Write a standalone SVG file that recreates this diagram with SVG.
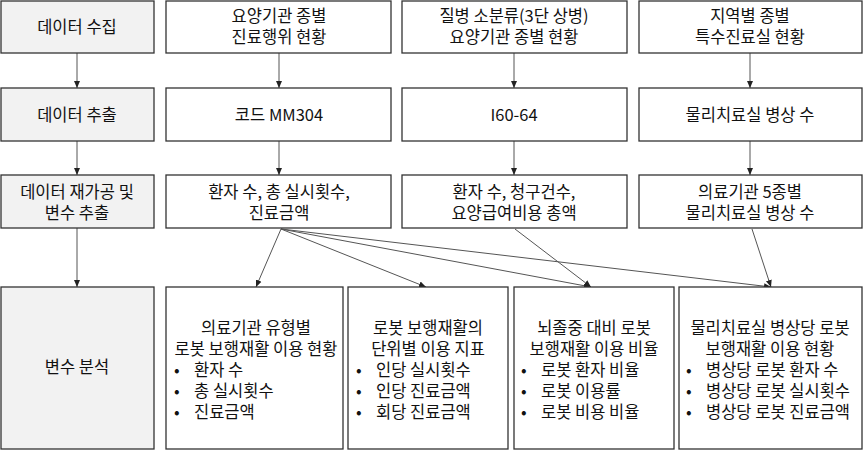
<svg xmlns="http://www.w3.org/2000/svg" width="866" height="452" viewBox="0 0 866 452">
<style>
rect{stroke:#333;stroke-width:1.3;fill:#fff}
rect.g{fill:#f2f2f2}
text{font-family:"Noto Sans CJK KR","Noto Sans",sans-serif;font-size:16.5px;fill:#111;text-anchor:middle}
text.l{text-anchor:start}
line{stroke:#555;stroke-width:1;marker-end:url(#a)}
</style>
<defs><marker id="a" markerWidth="8" markerHeight="8" refX="7" refY="4" orient="auto" markerUnits="userSpaceOnUse"><path d="M0,1 L7,4 L0,7 Z" fill="#222"/></marker></defs>
<g id="connectors">
<line x1="77" y1="53" x2="77" y2="88"/>
<line x1="77" y1="141" x2="77" y2="175"/>
<line x1="77" y1="228" x2="77" y2="287"/>
<line x1="279" y1="53" x2="279" y2="88"/>
<line x1="279" y1="141" x2="279" y2="175"/>
<line x1="514" y1="53" x2="514" y2="88"/>
<line x1="514" y1="141" x2="514" y2="175"/>
<line x1="750" y1="53" x2="750" y2="88"/>
<line x1="750" y1="141" x2="750" y2="175"/>
<line x1="281" y1="229" x2="256" y2="287"/>
<line x1="281" y1="229" x2="426" y2="287"/>
<line x1="281" y1="229" x2="591" y2="287"/>
<line x1="281" y1="229" x2="771" y2="287"/>
<line x1="515" y1="229" x2="591" y2="287"/>
<line x1="752" y1="229" x2="771" y2="287"/>
</g>
<g id="l1"><rect class="g" x="1" y="1" width="153" height="52"/><text x="77" y="33">데이터 수집</text></g>
<g id="l2"><rect class="g" x="1" y="88" width="153" height="53"/><text x="77" y="121">데이터 추출</text></g>
<g id="l3"><rect class="g" x="1" y="175" width="153" height="53"/><text x="77" y="198">데이터 재가공 및</text><text x="77" y="219">변수 추출</text></g>
<g id="l4"><rect class="g" x="1" y="287" width="153" height="162"/><text x="77" y="373">변수 분석</text></g>
<g id="c21"><rect x="166" y="1" width="225" height="52"/><text x="279" y="22">요양기관 종별</text><text x="279" y="43">진료행위 현황</text></g>
<g id="c31"><rect x="402" y="1" width="225" height="52"/><text x="514" y="22">질병 소분류(3단 상병)</text><text x="514" y="43">요양기관 종별 현황</text></g>
<g id="c41"><rect x="639" y="1" width="223" height="52"/><text x="750" y="22">지역별 종별</text><text x="750" y="43">특수진료실 현황</text></g>
<g id="c22"><rect x="166" y="88" width="225" height="53"/><text x="279" y="121">코드 MM304</text></g>
<g id="c32"><rect x="402" y="88" width="225" height="53"/><text x="514" y="121">I60-64</text></g>
<g id="c42"><rect x="639" y="88" width="223" height="53"/><text x="750" y="121">물리치료실 병상 수</text></g>
<g id="c23"><rect x="166" y="175" width="225" height="53"/><text x="279" y="198">환자 수, 총 실시횟수,</text><text x="279" y="219">진료금액</text></g>
<g id="c33"><rect x="402" y="175" width="225" height="53"/><text x="514" y="198">환자 수, 청구건수,</text><text x="514" y="219">요양급여비용 총액</text></g>
<g id="c43"><rect x="639" y="175" width="223" height="53"/><text x="750" y="198">의료기관 5종별</text><text x="750" y="219">물리치료실 병상 수</text></g>
<g id="b1"><rect x="166" y="287" width="177" height="162"/><text x="256" y="334">의료기관 유형별</text><text x="256" y="355">로봇 보행재활 이용 현황</text><text class="l" x="174" y="376">•<tspan x="194">환자 수</tspan></text><text class="l" x="174" y="397">•<tspan x="194">총 실시횟수</tspan></text><text class="l" x="174" y="418">•<tspan x="194">진료금액</tspan></text></g>
<g id="b2"><rect x="348" y="287" width="160" height="162"/><text x="428" y="334">로봇 보행재활의</text><text x="428" y="355">단위별 이용 지표</text><text class="l" x="356" y="376">•<tspan x="376">인당 실시횟수</tspan></text><text class="l" x="356" y="397">•<tspan x="376">인당 진료금액</tspan></text><text class="l" x="356" y="418">•<tspan x="376">회당 진료금액</tspan></text></g>
<g id="b3"><rect x="514" y="287" width="160" height="162"/><text x="594" y="334">뇌졸중 대비 로봇</text><text x="594" y="355">보행재활 이용 비율</text><text class="l" x="521" y="376">•<tspan x="541">로봇 환자 비율</tspan></text><text class="l" x="521" y="397">•<tspan x="541">로봇 이용률</tspan></text><text class="l" x="521" y="418">•<tspan x="541">로봇 비용 비율</tspan></text></g>
<g id="b4"><rect x="679" y="287" width="183" height="162"/><text x="770" y="334">물리치료실 병상당 로봇</text><text x="770" y="355">보행재활 이용 현황</text><text class="l" x="686" y="376">•<tspan x="706">병상당 로봇 환자 수</tspan></text><text class="l" x="686" y="397">•<tspan x="706">병상당 로봇 실시횟수</tspan></text><text class="l" x="686" y="418">•<tspan x="706">병상당 로봇 진료금액</tspan></text></g>
</svg>
